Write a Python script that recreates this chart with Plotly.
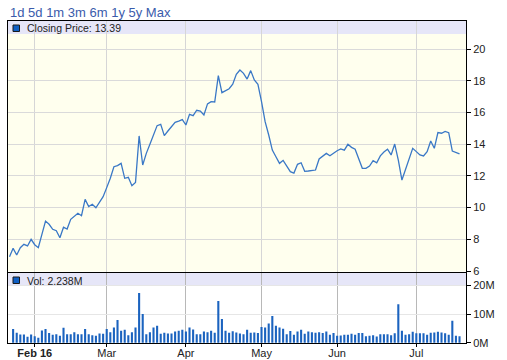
import pandas as pd
import plotly.graph_objects as go

# ---- data ----
holidays = ["2016-02-15", "2016-03-25", "2016-05-30", "2016-07-04"]
trade_days = [d for d in pd.bdate_range("2016-01-21", "2016-07-20") if d.strftime("%Y-%m-%d") not in holidays]
dates = [d.strftime("%Y-%m-%d") for d in trade_days]

close = [
    6.90, 7.43, 7.01, 7.47, 7.68, 7.58, 8.00, 7.66, 7.47, 8.38,
    9.15, 8.95, 8.63, 8.54, 8.10, 8.76, 8.65, 9.26, 9.43, 9.64,
    9.49, 10.52, 10.06, 10.21, 9.99, 10.33, 10.69, 11.26, 11.85, 12.58,
    12.65, 12.79, 11.85, 11.91, 11.38, 11.59, 14.52, 12.69, 13.42, 13.99,
    14.58, 15.17, 15.25, 14.54, 14.83, 15.13, 15.38, 15.46, 15.55, 15.21,
    15.88, 15.80, 16.14, 16.09, 15.84, 16.54, 16.68, 16.66, 18.32, 17.25,
    17.40, 17.50, 17.78, 18.41, 18.68, 18.47, 18.11, 18.64, 18.05, 17.78,
    16.68, 15.42, 14.58, 13.63, 13.21, 12.79, 12.98, 12.62, 12.27, 12.18,
    12.73, 12.83, 12.29, 12.31, 12.33, 12.37, 13.07, 13.27, 13.42, 13.27,
    13.46, 13.59, 13.70, 13.62, 13.99, 13.80, 13.68, 13.05, 12.48, 12.48,
    12.62, 12.96, 12.83, 13.26, 13.51, 13.68, 13.32, 14.01, 13.00, 11.74,
    12.37, 13.00, 13.74, 13.53, 13.32, 13.26, 13.53, 14.20, 13.74, 14.73,
    14.69, 14.81, 14.73, 13.57, 13.46, 13.39,
]

volume_m = [
    None, 4.8, 3.5, 2.9, 2.9, 2.1, 2.9, 2.3, 1.7, 4.3,
    4.8, 3.4, 2.8, 3.0, 2.4, 5.2, 3.0, 3.0, 3.7, 3.0,
    3.0, 4.8, 3.0, 2.6, 2.4, 3.2, 3.1, 4.8, 3.7, 5.3,
    8.0, 4.2, 4.5, 2.6, 3.7, 5.3, 17.4, 10.1, 3.0, 3.7,
    5.3, 5.9, 3.1, 3.5, 3.2, 3.2, 3.9, 4.2, 4.5, 3.9,
    5.3, 4.6, 3.0, 3.0, 3.9, 3.7, 4.2, 3.5, 14.6, 8.3,
    4.2, 3.5, 4.0, 3.6, 3.2, 3.0, 4.5, 3.5, 3.6, 3.4,
    5.5, 5.3, 6.7, 9.4, 5.9, 5.3, 4.9, 3.0, 4.1, 2.8,
    3.9, 4.5, 3.1, 3.9, 3.7, 3.5, 3.7, 3.4, 3.9, 2.8,
    3.4, 2.4, 2.5, 2.8, 2.8, 3.1, 2.8, 3.4, 3.4, 2.3,
    2.4, 2.6, 2.2, 3.0, 3.0, 3.0, 2.6, 3.3, 13.5, 4.2,
    2.8, 3.0, 3.8, 3.3, 3.3, 3.3, 2.8, 3.5, 3.6, 3.8,
    3.6, 3.3, 2.8, 7.7, 2.4, 2.238,
]
volume = [None if v is None else v * 1e6 for v in volume_m]

range_buttons = "1d 5d 1m 3m 6m 1y 5y Max"
price_ticks = [6, 8, 10, 12, 14, 16, 18, 20]
vol_ticks = [0, 10e6, 20e6]
vol_ticktext = ["0M", "10M", "20M"]

# month tick positions (first trading day of each month after January)
month_ticks, month_text = [], []
for d in trade_days:
    if d.month != 1 and (not month_ticks or pd.Timestamp(month_ticks[-1]).month != d.month):
        month_ticks.append(d.strftime("%Y-%m-%d"))
        month_text.append("<b>Feb 16</b>" if d.month == 2 else d.strftime("%b"))

# ---- figure ----
FONT = "Liberation Sans, Arial, sans-serif"
LINE_BLUE = "#3a78c6"
BAR_BLUE = "#1b63bf"

fig = go.Figure()
fig.add_trace(go.Scatter(x=dates, y=close, mode="lines",
                         line=dict(color=LINE_BLUE, width=1.3),
                         xaxis="x", yaxis="y", hoverinfo="skip"))
fig.add_trace(go.Bar(x=dates, y=volume, marker=dict(color=BAR_BLUE, line=dict(width=0)),
                     xaxis="x2", yaxis="y2", hoverinfo="skip"))

W, H = 507, 360
ml, mr, mt, mb = 8, 41, 21, 17
ph = H - mt - mb


def py(pix):
    return (H - mb - pix) / ph


def px(pix):
    return (pix - ml) / (W - ml - mr)


xr = [-0.42, 126.8]
price_dom = [py(271.5), 1]
vol_dom = [0, py(272.5)]

fig.update_layout(
    width=W, height=H,
    margin=dict(l=ml, r=mr, t=mt, b=mb, autoexpand=False),
    paper_bgcolor="white", plot_bgcolor="rgba(0,0,0,0)",
    showlegend=False, bargap=0.42,
    font=dict(family=FONT, size=11, color="#222222"),
    xaxis=dict(type="category", domain=[0, 1], range=xr, anchor="y", automargin=False,
               tickvals=month_ticks, showticklabels=False, ticks="",
               showgrid=True, gridcolor="#d6d6d6", gridwidth=1,
               showline=True, linecolor="black", linewidth=1, mirror=True,
               zeroline=False),
    yaxis=dict(domain=price_dom, range=[5.97, 21.77], side="right", anchor="x", automargin=False,
               tickvals=price_ticks, ticks="outside", ticklen=4, tickcolor="black",
               showgrid=True, gridcolor="#dadada", gridwidth=1,
               showline=True, linecolor="black", linewidth=1, mirror=True,
               zeroline=False, tickfont=dict(size=11, color="#222222")),
    xaxis2=dict(type="category", domain=[0, 1], range=xr, anchor="y2", automargin=False,
                tickvals=month_ticks, ticktext=month_text,
                ticks="outside", ticklen=3, tickcolor="black", ticklabelstandoff=-3,
                showgrid=True, gridcolor="#b8b8b8", gridwidth=1,
                showline=True, linecolor="black", linewidth=1, mirror=True,
                zeroline=False, tickfont=dict(size=11, color="#222222")),
    yaxis2=dict(domain=vol_dom, range=[-0.1e6, 24.6e6], side="right", anchor="x2", automargin=False,
                tickvals=vol_ticks, ticktext=vol_ticktext,
                ticks="outside", ticklen=4, tickcolor="black",
                showgrid=True, gridcolor="#e6e6e6", gridwidth=1,
                showline=True, linecolor="black", linewidth=1, mirror=True,
                zeroline=False, tickfont=dict(size=11, color="#222222")),
)

shapes = [
    # cream price background
    dict(type="rect", xref="paper", yref="paper", x0=0, x1=1, y0=price_dom[0], y1=py(34),
         fillcolor="#ffffee", line=dict(width=0), layer="below"),
    # price header band
    dict(type="rect", xref="paper", yref="paper", x0=0, x1=1, y0=py(34), y1=1,
         fillcolor="#e6e6f8", line=dict(width=0), layer="below"),
    # volume header band
    dict(type="rect", xref="paper", yref="paper", x0=0, x1=1, y0=py(285), y1=vol_dom[1],
         fillcolor="#e6e6f8", line=dict(width=0), layer="below"),
    # legend squares
    dict(type="rect", xref="paper", yref="paper", x0=px(13), x1=px(19.5), y0=py(31.5), y1=py(25),
         fillcolor="#0f5fc4", line=dict(color="#1a1a1a", width=1)),
    dict(type="rect", xref="paper", yref="paper", x0=px(13), x1=px(19.5), y0=py(283.5), y1=py(277),
         fillcolor="#0f5fc4", line=dict(color="#1a1a1a", width=1)),
]
fig.update_layout(shapes=shapes)

fig.add_annotation(text=range_buttons, xref="paper", yref="paper", x=px(8), y=py(12),
                   xanchor="left", yanchor="middle", showarrow=False,
                   font=dict(family=FONT, size=13, color="#3a5bab"))
fig.add_annotation(text="Closing Price: 13.39", xref="paper", yref="paper", x=px(25), y=py(28.3),
                   xanchor="left", yanchor="middle", showarrow=False,
                   font=dict(family=FONT, size=10.5, color="#222222"))
fig.add_annotation(text="Vol: 2.238M", xref="paper", yref="paper", x=px(25), y=py(280.5),
                   xanchor="left", yanchor="middle", showarrow=False,
                   font=dict(family=FONT, size=10.5, color="#222222"))

# remove the browser's default 8px page margin so the figure sits at the window origin
fig.write_html("out.html", config={"displayModeBar": False},
               post_script="document.body.style.margin='0';document.body.style.overflow='hidden';")
